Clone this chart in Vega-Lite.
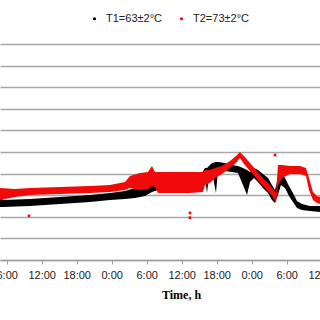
{
  "$schema": "https://vega.github.io/schema/vega-lite/v6.json",
  "width": 320,
  "height": 216,
  "autosize": {"type": "none"},
  "padding": {"left": 0, "right": 0, "top": 44, "bottom": 60},
  "background": "white",
  "config": {
    "view": {"stroke": null},
    "font": "Liberation Sans"
  },
  "datasets": {
    "band": [
      {"s": "T1=63±2°C", "t": 4.85, "hi": 32.4, "lo": 24.5},
      {"s": "T1=63±2°C", "t": 5.36, "hi": 27.8, "lo": 24.5},
      {"s": "T1=63±2°C", "t": 9.99, "hi": 28.2, "lo": 25.0},
      {"s": "T1=63±2°C", "t": 15.14, "hi": 29.2, "lo": 25.9},
      {"s": "T1=63±2°C", "t": 20.28, "hi": 30.1, "lo": 26.9},
      {"s": "T1=63±2°C", "t": 23.71, "hi": 31.0, "lo": 27.8},
      {"s": "T1=63±2°C", "t": 26.28, "hi": 31.9, "lo": 28.2},
      {"s": "T1=63±2°C", "t": 28.0, "hi": 33.3, "lo": 28.7},
      {"s": "T1=63±2°C", "t": 29.71, "hi": 36.1, "lo": 29.6},
      {"s": "T1=63±2°C", "t": 30.91, "hi": 38.0, "lo": 31.5},
      {"s": "T1=63±2°C", "t": 31.94, "hi": 38.0, "lo": 32.4},
      {"s": "T1=63±2°C", "t": 34.0, "hi": 38.0, "lo": 33.3},
      {"s": "T1=63±2°C", "t": 39.14, "hi": 38.9, "lo": 34.3},
      {"s": "T1=63±2°C", "t": 39.99, "hi": 42.6, "lo": 38.0},
      {"s": "T1=63±2°C", "t": 40.34, "hi": 42.6, "lo": 31.0},
      {"s": "T1=63±2°C", "t": 40.68, "hi": 43.5, "lo": 38.9},
      {"s": "T1=63±2°C", "t": 41.2, "hi": 44.9, "lo": 40.7},
      {"s": "T1=63±2°C", "t": 41.88, "hi": 45.4, "lo": 31.0},
      {"s": "T1=63±2°C", "t": 42.22, "hi": 45.4, "lo": 41.2},
      {"s": "T1=63±2°C", "t": 43.42, "hi": 44.9, "lo": 41.2},
      {"s": "T1=63±2°C", "t": 44.62, "hi": 44.0, "lo": 40.7},
      {"s": "T1=63±2°C", "t": 45.65, "hi": 43.5, "lo": 40.3},
      {"s": "T1=63±2°C", "t": 46.51, "hi": 42.6, "lo": 34.7},
      {"s": "T1=63±2°C", "t": 47.2, "hi": 41.7, "lo": 30.1},
      {"s": "T1=63±2°C", "t": 47.71, "hi": 40.7, "lo": 36.1},
      {"s": "T1=63±2°C", "t": 48.4, "hi": 42.6, "lo": 38.0},
      {"s": "T1=63±2°C", "t": 49.08, "hi": 41.7, "lo": 36.1},
      {"s": "T1=63±2°C", "t": 49.94, "hi": 39.8, "lo": 33.3},
      {"s": "T1=63±2°C", "t": 50.8, "hi": 38.0, "lo": 31.0},
      {"s": "T1=63±2°C", "t": 51.48, "hi": 34.7, "lo": 27.8},
      {"s": "T1=63±2°C", "t": 52.0, "hi": 32.4, "lo": 26.4},
      {"s": "T1=63±2°C", "t": 52.51, "hi": 38.0, "lo": 30.1},
      {"s": "T1=63±2°C", "t": 53.02, "hi": 40.3, "lo": 34.7},
      {"s": "T1=63±2°C", "t": 53.71, "hi": 38.0, "lo": 33.3},
      {"s": "T1=63±2°C", "t": 54.4, "hi": 34.3, "lo": 29.6},
      {"s": "T1=63±2°C", "t": 55.08, "hi": 31.0, "lo": 26.9},
      {"s": "T1=63±2°C", "t": 55.77, "hi": 27.3, "lo": 24.1},
      {"s": "T1=63±2°C", "t": 56.62, "hi": 25.9, "lo": 23.1},
      {"s": "T1=63±2°C", "t": 58.0, "hi": 25.0, "lo": 22.7},
      {"s": "T1=63±2°C", "t": 59.71, "hi": 25.0, "lo": 22.2},
      {"s": "T2=73±2°C", "t": 4.85, "hi": 33.3, "lo": 27.8},
      {"s": "T2=73±2°C", "t": 7.42, "hi": 32.9, "lo": 29.2},
      {"s": "T2=73±2°C", "t": 9.99, "hi": 33.3, "lo": 30.1},
      {"s": "T2=73±2°C", "t": 15.14, "hi": 33.8, "lo": 30.6},
      {"s": "T2=73±2°C", "t": 20.28, "hi": 34.3, "lo": 31.0},
      {"s": "T2=73±2°C", "t": 23.71, "hi": 34.7, "lo": 31.5},
      {"s": "T2=73±2°C", "t": 26.28, "hi": 36.1, "lo": 32.4},
      {"s": "T2=73±2°C", "t": 27.14, "hi": 38.9, "lo": 33.3},
      {"s": "T2=73±2°C", "t": 28.85, "hi": 40.3, "lo": 32.4},
      {"s": "T2=73±2°C", "t": 30.22, "hi": 40.7, "lo": 32.9},
      {"s": "T2=73±2°C", "t": 30.91, "hi": 43.5, "lo": 34.3},
      {"s": "T2=73±2°C", "t": 31.42, "hi": 40.7, "lo": 33.8},
      {"s": "T2=73±2°C", "t": 31.94, "hi": 40.7, "lo": 31.0},
      {"s": "T2=73±2°C", "t": 34.0, "hi": 40.7, "lo": 31.0},
      {"s": "T2=73±2°C", "t": 37.42, "hi": 40.7, "lo": 31.0},
      {"s": "T2=73±2°C", "t": 39.65, "hi": 40.7, "lo": 31.5},
      {"s": "T2=73±2°C", "t": 39.99, "hi": 41.7, "lo": 34.7},
      {"s": "T2=73±2°C", "t": 40.85, "hi": 41.7, "lo": 35.6},
      {"s": "T2=73±2°C", "t": 41.71, "hi": 42.6, "lo": 38.0},
      {"s": "T2=73±2°C", "t": 42.91, "hi": 43.5, "lo": 39.8},
      {"s": "T2=73±2°C", "t": 44.28, "hi": 45.8, "lo": 42.6},
      {"s": "T2=73±2°C", "t": 45.31, "hi": 48.1, "lo": 44.9},
      {"s": "T2=73±2°C", "t": 45.99, "hi": 50.0, "lo": 47.2},
      {"s": "T2=73±2°C", "t": 46.68, "hi": 48.1, "lo": 44.4},
      {"s": "T2=73±2°C", "t": 47.71, "hi": 44.9, "lo": 41.2},
      {"s": "T2=73±2°C", "t": 48.74, "hi": 41.7, "lo": 38.0},
      {"s": "T2=73±2°C", "t": 49.77, "hi": 38.4, "lo": 34.7},
      {"s": "T2=73±2°C", "t": 50.8, "hi": 35.6, "lo": 31.9},
      {"s": "T2=73±2°C", "t": 51.65, "hi": 32.9, "lo": 29.2},
      {"s": "T2=73±2°C", "t": 52.17, "hi": 31.0, "lo": 26.4},
      {"s": "T2=73±2°C", "t": 52.51, "hi": 44.0, "lo": 34.7},
      {"s": "T2=73±2°C", "t": 53.2, "hi": 44.0, "lo": 38.0},
      {"s": "T2=73±2°C", "t": 54.57, "hi": 43.5, "lo": 39.8},
      {"s": "T2=73±2°C", "t": 56.28, "hi": 43.5, "lo": 39.8},
      {"s": "T2=73±2°C", "t": 57.31, "hi": 42.6, "lo": 38.9},
      {"s": "T2=73±2°C", "t": 57.83, "hi": 38.0, "lo": 32.4},
      {"s": "T2=73±2°C", "t": 58.51, "hi": 31.5, "lo": 27.8},
      {"s": "T2=73±2°C", "t": 59.2, "hi": 29.6, "lo": 26.4},
      {"s": "T2=73±2°C", "t": 59.71, "hi": 29.2, "lo": 25.9}
    ],
    "dots": [
      {"s": "T2=73±2°C", "t": 9.82, "hi": 20.4},
      {"s": "T2=73±2°C", "t": 37.42, "hi": 21.8},
      {"s": "T2=73±2°C", "t": 37.42, "hi": 19.6},
      {"s": "T2=73±2°C", "t": 52.0, "hi": 48.6}
    ]
  },
  "encoding": {
    "x": {
      "field": "t",
      "type": "quantitative",
      "scale": {"domain": [4.85, 61], "range": [0, 327.5], "nice": false, "zero": false},
      "axis": {
        "title": "Time, h",
        "titleFont": "Liberation Serif",
        "titleFontWeight": "bold",
        "titleFontSize": 12,
        "titleColor": "#000000",
        "titleX": 181,
        "titleY": 29,
        "values": [6, 12, 18, 24, 30, 36, 42, 48, 54, 60],
        "labelExpr": "(datum.value % 24) + ':00'",
        "labelFont": "Liberation Sans",
        "labelFontSize": 11,
        "labelColor": "#222222",
        "labelPadding": 5,
        "labelFlush": false,
        "labelOverlap": false,
        "domainColor": "#a0a0a0",
        "domainWidth": 1.5,
        "tickColor": "#a0a0a0",
        "tickSize": 4,
        "grid": false
      }
    },
    "y": {
      "field": "hi",
      "type": "quantitative",
      "scale": {"domain": [0, 100], "nice": false},
      "axis": {
        "title": null,
        "values": [0, 10, 20, 30, 40, 50, 60, 70, 80, 90, 100],
        "labels": false,
        "ticks": false,
        "domain": false,
        "grid": true,
        "gridColor": "#a8a8a8",
        "gridWidth": 1.5
      }
    },
    "color": {
      "field": "s",
      "type": "nominal",
      "scale": {"domain": ["T1=63±2°C", "T2=73±2°C"], "range": ["#000000", "#f00a0a"]},
      "legend": {
        "title": null,
        "orient": "none",
        "direction": "horizontal",
        "legendX": 89,
        "legendY": -31,
        "symbolType": "circle",
        "symbolSize": 10,
        "labelFont": "Liberation Sans",
        "labelFontSize": 11,
        "labelColor": "#222222",
        "labelOffset": 6,
        "columnPadding": 14,
        "padding": 0
      }
    }
  },
  "layer": [
    {
      "data": {"name": "band"},
      "mark": {"type": "area", "opacity": 1},
      "encoding": {
        "y2": {"field": "lo"}
      }
    },
    {
      "data": {"name": "dots"},
      "mark": {"type": "point", "filled": true, "shape": "square", "size": 7, "opacity": 1}
    }
  ]
}
